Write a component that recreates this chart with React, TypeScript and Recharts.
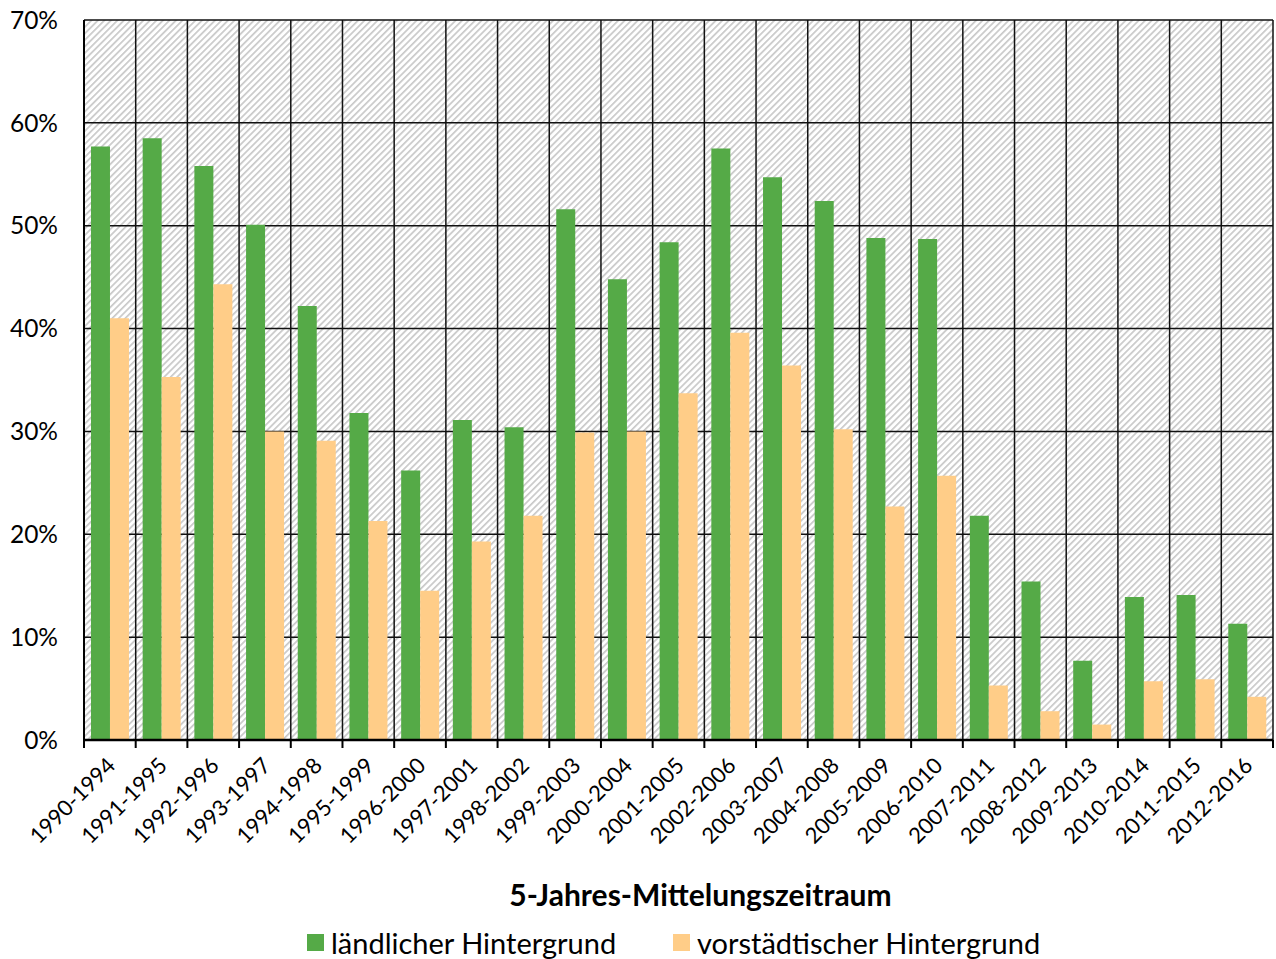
import { BarChart, Bar, XAxis, YAxis, CartesianGrid, Legend } from 'recharts';

const periods = [
  '1990-1994', '1991-1995', '1992-1996', '1993-1997', '1994-1998', '1995-1999',
  '1996-2000', '1997-2001', '1998-2002', '1999-2003', '2000-2004', '2001-2005',
  '2002-2006', '2003-2007', '2004-2008', '2005-2009', '2006-2010', '2007-2011',
  '2008-2012', '2009-2013', '2010-2014', '2011-2015', '2012-2016',
];

// Anteil in %
const laendlich = [
  57.7, 58.5, 55.8, 50.1, 42.2, 31.8, 26.2, 31.1, 30.4, 51.6, 44.8, 48.4,
  57.5, 54.7, 52.4, 48.8, 48.7, 21.8, 15.4, 7.7, 13.9, 14.1, 11.3,
];
const vorstaedtisch = [
  41.0, 35.3, 44.3, 30.0, 29.1, 21.3, 14.5, 19.3, 21.8, 29.9, 30.0, 33.7,
  39.6, 36.4, 30.2, 22.7, 25.7, 5.3, 2.8, 1.5, 5.7, 5.9, 4.2,
];

const yTicks = [0, 10, 20, 30, 40, 50, 60, 70];

const data = periods.map((p, i) => ({
  period: p,
  laendlich: laendlich[i],
  vorstaedtisch: vorstaedtisch[i],
}));

const GREEN = '#55aa47';
const ORANGE = '#ffcd88';
const FONT = 'Lato, "Noto Sans", sans-serif';
const PLOT_W = 1189;
const HALF = PLOT_W / periods.length / 2;

function PeriodTick({ x, y, payload, index }: any) {
  return (
    <g>
      <line x1={x - HALF} x2={x - HALF} y1={y} y2={y + 8} stroke="#000" strokeWidth={2} />
      {index === periods.length - 1 && (
        <line x1={x + HALF} x2={x + HALF} y1={y} y2={y + 8} stroke="#000" strokeWidth={2} />
      )}
      <text
        x={x + 7}
        y={y + 27}
        transform={`rotate(-45, ${x + 7}, ${y + 27})`}
        textAnchor="end"
        fontSize={22}
        fontFamily={FONT}
        fill="#000"
      >
        {payload.value}
      </text>
    </g>
  );
}

function LegendRow({ payload }: any) {
  return (
    <div style={{ display: 'flex', paddingLeft: 307, paddingTop: 6, fontFamily: FONT, fontSize: 29, color: '#000' }}>
      {(payload || []).map((e: any, i: number) => (
        <div key={e.value} style={{ display: 'flex', alignItems: 'center', width: i === 0 ? 366 : 'auto' }}>
          <span style={{ display: 'inline-block', width: 17, height: 17, background: e.color, marginRight: 7 }} />
          <span>{e.value}</span>
        </div>
      ))}
    </div>
  );
}

export default function App() {
  return (
    <div style={{ position: 'absolute', left: 0, top: 0, width: 1276, height: 959, background: '#fff' }}>
      <BarChart
        width={1276}
        height={959}
        data={data}
        margin={{ top: 20, right: 3, bottom: 0, left: 0 }}
        barGap={0}
        barCategoryGap="13.5%"
      >
        <defs>
          <pattern id="hatch" width="4.6" height="4.6" patternUnits="userSpaceOnUse" patternTransform="rotate(45)">
            <rect x="0" y="0" width="4.6" height="4.6" fill="#fff" />
            <rect x="0" y="0" width="1.7" height="4.6" fill="#c9c9c9" />
          </pattern>
        </defs>
        <CartesianGrid
          fill="url(#hatch)"
          fillOpacity={1}
          stroke="#111"
          strokeWidth={1.5}
          verticalCoordinatesGenerator={({ offset }: any) =>
            Array.from({ length: periods.length + 1 }, (_, i) => offset.left + (i * offset.width) / periods.length)
          }
        />
        <XAxis
          dataKey="period"
          interval={0}
          height={179}
          tickSize={0}
          tickMargin={0}
          tickLine={false}
          axisLine={{ stroke: '#000', strokeWidth: 2.5 }}
          tick={<PeriodTick />}
          label={({ viewBox }: any) => (
            <text
              x={viewBox.x + viewBox.width / 2 + 22}
              y={viewBox.y + viewBox.height - 13}
              textAnchor="middle"
              fontFamily={FONT}
              fontWeight="bold"
              fontSize={30}
              fill="#000"
            >
              5-Jahres-Mittelungszeitraum
            </text>
          )}
        />
        <YAxis
          width={84}
          domain={[0, 70]}
          ticks={yTicks}
          interval={0}
          tickFormatter={(v: number) => `${v}%`}
          tickLine={false}
          tickMargin={20}
          axisLine={{ stroke: '#000', strokeWidth: 2 }}
          tick={{ fontSize: 24.5, fontFamily: FONT, fill: '#000' }}
        />
        <Legend verticalAlign="bottom" height={40} content={<LegendRow />} />
        <Bar dataKey="laendlich" name="ländlicher Hintergrund" fill={GREEN} isAnimationActive={false} />
        <Bar dataKey="vorstaedtisch" name="vorstädtischer Hintergrund" fill={ORANGE} isAnimationActive={false} />
      </BarChart>
    </div>
  );
}
